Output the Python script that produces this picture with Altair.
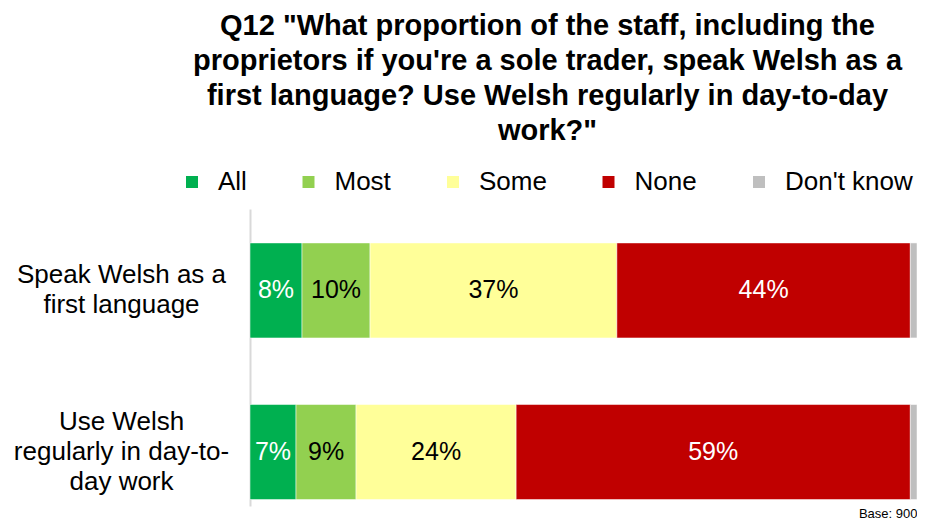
import altair as alt
import pandas as pd

questions = ["Speak Welsh as a|first language", "Use Welsh|regularly in day-to-|day work"]
categories = ["All", "Most", "Some", "None", "Don't know"]
colors = ["#00B050", "#92D050", "#FFFF99", "#C00000", "#BFBFBF"]
text_colors = ["white", "black", "black", "white", "black"]
speak_values = [7.8, 10.2, 37.0, 44.0, 1.0]
use_values = [6.9, 9.0, 24.0, 59.1, 1.0]
speak_labels = ["8%", "10%", "37%", "44%", ""]
use_labels = ["7%", "9%", "24%", "59%", ""]

rows = []
for q, vals, labs in [(questions[0], speak_values, speak_labels), (questions[1], use_values, use_labels)]:
    for i, (c, v, l) in enumerate(zip(categories, vals, labs)):
        rows.append({"question": q, "category": c, "value": v, "order": i,
                     "label": l, "tcolor": text_colors[i]})
df = pd.DataFrame(rows)

FONT = "Liberation Sans"

base = alt.Chart(df)

label_offset = {
    "condition": {"test": "indexof(datum.value, 'Use') == 0", "value": -30},
    "value": -15,
}

y_enc = alt.Y("question:N", sort=questions, title=None,
              scale=alt.Scale(paddingInner=0.412, paddingOuter=0.125, align=0.84),
              axis=alt.Axis(labelExpr="split(datum.label, '|')", labelAlign="center",
                            labelBaseline="middle", labelPadding=129, ticks=False, tickSize=0,
                            labelFontSize=26, labelLineHeight=30, labelFont=FONT,
                            labelColor="black", labelLimit=400, labelOffset=label_offset,
                            domainColor="#D9D9D9", domainWidth=2))

bars = base.mark_bar(stroke="white", strokeWidth=0.5).encode(
    x=alt.X("value:Q", stack="zero", scale=alt.Scale(domain=[0, 100], nice=False),
            axis=alt.Axis(labels=False, ticks=False, domain=False, grid=False,
                          title="Base: 900", titleAnchor="end", titleFontSize=13,
                          titleFontWeight="normal", titleFont=FONT, titlePadding=1,
                          titleColor="black")),
    y=y_enc,
    color=alt.Color("category:N", sort=categories,
                    scale=alt.Scale(domain=categories, range=colors),
                    legend=alt.Legend(title=None, orient="none", direction="horizontal",
                                      legendX=-71, legendY=-40, symbolType="square",
                                      symbolSize=144, symbolStrokeWidth=0,
                                      labelFontSize=26, labelFont=FONT, labelColor="black",
                                      labelOffset=13, columnPadding=48.5, padding=0,
                                      labelLimit=300)),
    order=alt.Order("order:Q"),
)

texts = base.transform_window(
    cum="sum(value)", groupby=["question"], sort=[alt.SortField("order")]
).transform_calculate(
    mid="datum.cum - datum.value / 2"
).mark_text(fontSize=25, font=FONT, baseline="middle", align="center").encode(
    x=alt.X("mid:Q"),
    y=alt.Y("question:N", sort=questions),
    text="label:N",
    color=alt.Color("tcolor:N", scale=None, legend=None),
)

chart = alt.layer(bars, texts).properties(
    width=667, height=297,
    autosize=alt.AutoSizeParams(type="none"),
    padding={"left": 242, "top": 201, "right": 0, "bottom": 15},
    title=alt.TitleParams(
        text=['Q12 "What proportion of the staff, including the',
              "proprietors if you're a sole trader, speak Welsh as a",
              "first language? Use Welsh regularly in day-to-day",
              'work?"'],
        fontSize=29, font=FONT, fontWeight="bold", lineHeight=35, color="black",
        anchor="middle", frame="group", dx=-36, offset=23,
    ),
).configure_view(stroke=None)

chart.save("out.html", embed_options={"renderer": "svg", "actions": False})
